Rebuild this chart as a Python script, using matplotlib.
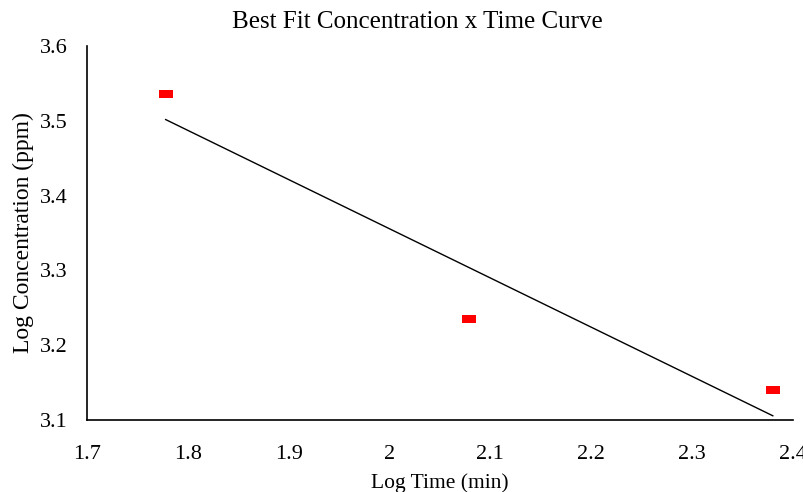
import numpy as np
import matplotlib.pyplot as plt
from matplotlib.path import Path

plt.rcParams['font.family'] = ['Liberation Serif', 'DejaVu Serif']

# data
log_time = [1.778, 2.079, 2.380]
log_conc = [3.536, 3.235, 3.140]

x_ticks = [1.7, 1.8, 1.9, 2.0, 2.1, 2.2, 2.3, 2.4]
x_labels = ['1.7', '1.8', '1.9', '2', '2.1', '2.2', '2.3', '2.4']
y_ticks = [3.1, 3.2, 3.3, 3.4, 3.5, 3.6]
y_labels = ['3.1', '3.2', '3.3', '3.4', '3.5', '3.6']

# flat red rectangle marker like excel
rect = Path([(-1, -0.55), (1, -0.55), (1, 0.55), (-1, 0.55), (-1, -0.55)],
            [Path.MOVETO, Path.LINETO, Path.LINETO, Path.LINETO, Path.CLOSEPOLY])

fig = plt.figure(figsize=(8.04, 4.92), dpi=100)
ax = fig.add_axes([0.1082, 0.1463, 0.8781, 0.7602])

ax.plot(log_time, log_conc, linestyle='none', marker=rect, markersize=10.5,
        color='#ff0000', markeredgewidth=0)

# linear trend line
m, b = np.polyfit(log_time, log_conc, 1)
xs = np.array([log_time[0], log_time[-1]])
ax.plot(xs, m * xs + b, color='black', linewidth=1.0)

ax.set_xlim(1.7, 2.4)
ax.set_ylim(3.1, 3.6)
ax.set_xticks(x_ticks)
ax.set_xticklabels(x_labels)
ax.set_yticks(y_ticks)
ax.set_yticklabels(y_labels)
ax.tick_params(length=0, labelsize=16)
ax.tick_params(axis='x', pad=18)
ax.tick_params(axis='y', pad=14)

for s in ['top', 'right']:
    ax.spines[s].set_visible(False)
for s in ['left', 'bottom']:
    ax.spines[s].set_linewidth(1.2)

# title centred on the chart area, not the plot area
fig.text(0.519, 0.955, 'Best Fit Concentration x Time Curve', fontsize=18,
         ha='center', va='center')
ax.set_xlabel('Log Time (min)', fontsize=15.5, labelpad=7)
ax.set_ylabel('Log Concentration (ppm)', fontsize=17, labelpad=4)

fig.savefig('out.png', dpi=100)
